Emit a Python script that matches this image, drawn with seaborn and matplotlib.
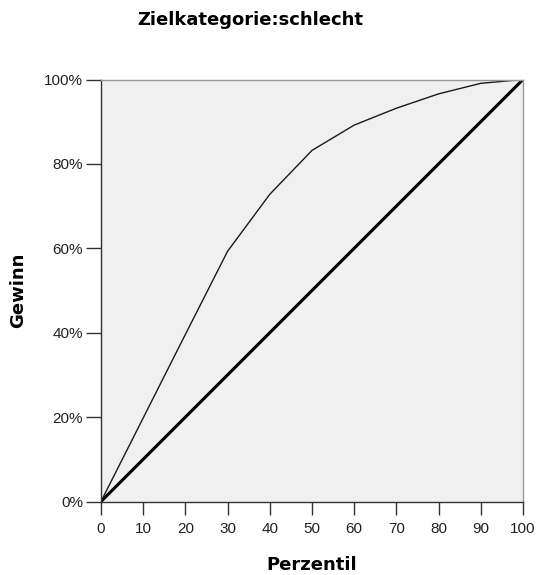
import seaborn as sns
import matplotlib.pyplot as plt
import pandas as pd

# Gain chart data (percentile vs. cumulative gain in %)
perzentil = [0, 10, 20, 30, 40, 50, 60, 70, 80, 90, 100]
gewinn = [0, 19.8, 39.6, 59.3, 72.8, 83.2, 89.2, 93.2, 96.6, 99.1, 100]
basis_x = [0, 100]
basis_y = [0, 100]

sns.set_theme(style="white")
plt.rcParams["font.family"] = ["Liberation Sans", "DejaVu Sans"]
plt.rcParams["text.color"] = "black"
plt.rcParams["axes.labelcolor"] = "black"

df = pd.DataFrame({"Perzentil": perzentil, "Gewinn": gewinn})
df_base = pd.DataFrame({"Perzentil": basis_x, "Gewinn": basis_y})

fig = plt.figure(figsize=(5.36, 5.75), dpi=100)
ax = fig.add_axes([0.1884, 0.1278, 0.7873, 0.7339])
ax.set_facecolor("#f0f0f0")

sns.lineplot(data=df_base, x="Perzentil", y="Gewinn", ax=ax,
             color="black", linewidth=2.2)
sns.lineplot(data=df, x="Perzentil", y="Gewinn", ax=ax,
             color="#1a1a1a", linewidth=1.0)

ax.set_xlim(0, 100)
ax.set_ylim(0, 100)
ax.set_xticks(range(0, 101, 10))
ax.set_yticks(range(0, 101, 20))
ax.set_yticklabels([f"{v}%" for v in range(0, 101, 20)])
ax.tick_params(axis="both", direction="out", width=1, color="#333333",
               labelsize=11, labelcolor="#222222", bottom=True, left=True)
ax.tick_params(axis="x", length=9, pad=6)
ax.tick_params(axis="y", length=11, pad=2)

for side in ["left", "bottom"]:
    ax.spines[side].set_color("#333333")
    ax.spines[side].set_linewidth(1.0)
for side in ["top", "right"]:
    ax.spines[side].set_color("#999999")
    ax.spines[side].set_linewidth(1.0)

lab_font = dict(family="DejaVu Sans", fontsize=13, fontweight="bold")
ax.set_xlabel("Perzentil", **lab_font)
ax.set_ylabel("Gewinn", **lab_font)
ax.xaxis.set_label_coords(0.5, -0.129)
ax.yaxis.set_label_coords(-0.175, 0.5)
fig.text(0.466, 0.966, "Zielkategorie:schlecht", ha="center", va="center",
         **lab_font)

fig.savefig("out.png", dpi=100)
